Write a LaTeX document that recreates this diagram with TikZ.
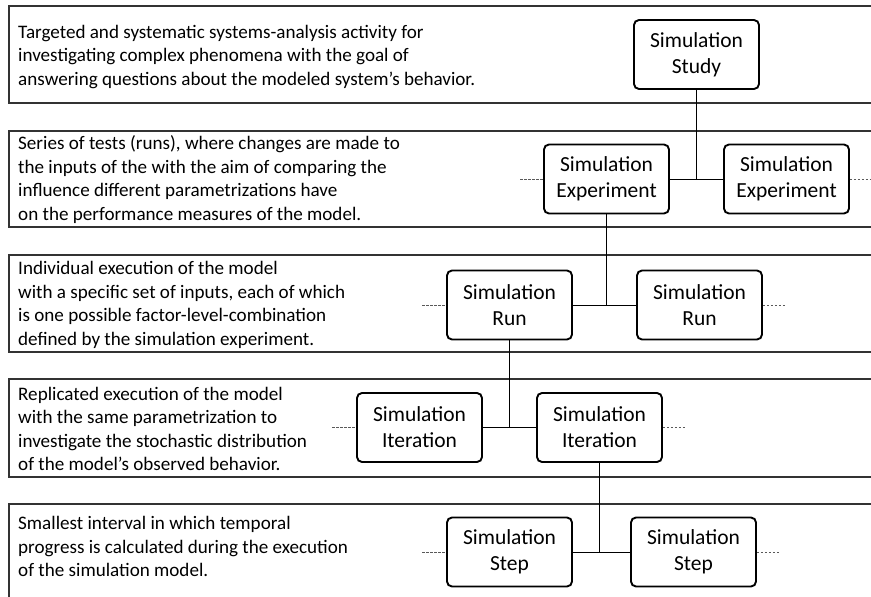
\documentclass[tikz,border=0pt]{standalone}
\usepackage{fontspec}
\setmainfont{Carlito}
\begin{document}
\begin{tikzpicture}[x=1pt,y=-1pt,
  band/.style={draw=black!80,line width=1.2pt},
  desc/.style={anchor=west,align=left,inner sep=0pt,font=\fontsize{19.1}{23.4}\selectfont},
  simbox/.style={draw=black,line width=1.9pt,rounded corners=5pt,minimum width=125pt,minimum height=69pt,align=center,inner sep=2pt,font=\fontsize{21.5}{25.8}\selectfont},
  conn/.style={draw=black,line width=1pt},
  stub/.style={draw=black!65,line width=1pt,dash pattern=on 2.5pt off 1.5pt}]
\useasboundingbox (0,0) rectangle (871,597);
\fill[white] (0,0) rectangle (871,597);
% bands
\draw[band] (871,6) -- (9,6) -- (9,103) -- (871,103);
\draw[band] (871,131) -- (9,131) -- (9,227) -- (871,227);
\draw[band] (871,255) -- (9,255) -- (9,352) -- (871,352);
\draw[band] (871,379) -- (9,379) -- (9,477) -- (871,477);
\draw[band] (871,504) -- (9,504) -- (9,597);
% descriptions
\node[desc] (d1) at (18,57) {Targeted and systematic systems-analysis activity for\\investigating complex phenomena with the goal of\\answering questions about the modeled system’s behavior.};
\node[desc] (d2) at (18,179.5) {Series of tests (runs), where changes are made to\\the inputs of the with the aim of comparing the\\influence different parametrizations have\\on the performance measures of the model.};
\node[desc] (d3) at (18,305) {Individual execution of the model\\with a specific set of inputs, each of which\\is one possible factor-level-combination\\defined by the simulation experiment.};
\node[desc] (d4) at (18,429) {Replicated execution of the model\\with the same parametrization to\\investigate the stochastic distribution\\of the model’s observed behavior.};
\node[desc] (d5) at (18,546.5) {Smallest interval in which temporal\\progress is calculated during the execution\\of the simulation model.};
% boxes
\node[simbox] (study) at (696.5,54.5) {Simulation\\Study};
\node[simbox] (exp1) at (606.5,179) {Simulation\\Experiment};
\node[simbox] (exp2) at (786.5,179) {Simulation\\Experiment};
\node[simbox] (run1) at (509.5,305) {Simulation\\Run};
\node[simbox] (run2) at (699.5,305) {Simulation\\Run};
\node[simbox] (it1) at (419.5,427.5) {Simulation\\Iteration};
\node[simbox] (it2) at (599.5,427.5) {Simulation\\Iteration};
\node[simbox] (step1) at (509.5,552) {Simulation\\Step};
\node[simbox] (step2) at (693.5,552) {Simulation\\Step};
% connectors
\draw[conn] (exp1.east) -- (exp2.west);
\draw[conn] (study.south) -- (study.south |- exp1.east);
\draw[conn] (run1.east) -- (run2.west);
\draw[conn] (exp1.south) -- (exp1.south |- run1.east);
\draw[conn] (it1.east) -- (it2.west);
\draw[conn] (run1.south) -- (run1.south |- it1.east);
\draw[conn] (step1.east) -- (step2.west);
\draw[conn] (it2.south) -- (it2.south |- step1.east);
% dashed stubs
\coordinate (e1l) at ([xshift=-23pt]exp1.west);
\coordinate (e2r) at ([xshift=23pt]exp2.east);
\coordinate (r1l) at ([xshift=-24pt]run1.west);
\coordinate (r2r) at ([xshift=23pt]run2.east);
\coordinate (i1l) at ([xshift=-24pt]it1.west);
\coordinate (i2r) at ([xshift=22pt]it2.east);
\coordinate (s1l) at ([xshift=-24pt]step1.west);
\coordinate (s2r) at ([xshift=22pt]step2.east);
\draw[stub] (e1l) -- (exp1.west);
\draw[stub] (exp2.east) -- (e2r);
\draw[stub] (r1l) -- (run1.west);
\draw[stub] (run2.east) -- (r2r);
\draw[stub] (i1l) -- (it1.west);
\draw[stub] (it2.east) -- (i2r);
\draw[stub] (s1l) -- (step1.west);
\draw[stub] (step2.east) -- (s2r);
\end{tikzpicture}
\end{document}
